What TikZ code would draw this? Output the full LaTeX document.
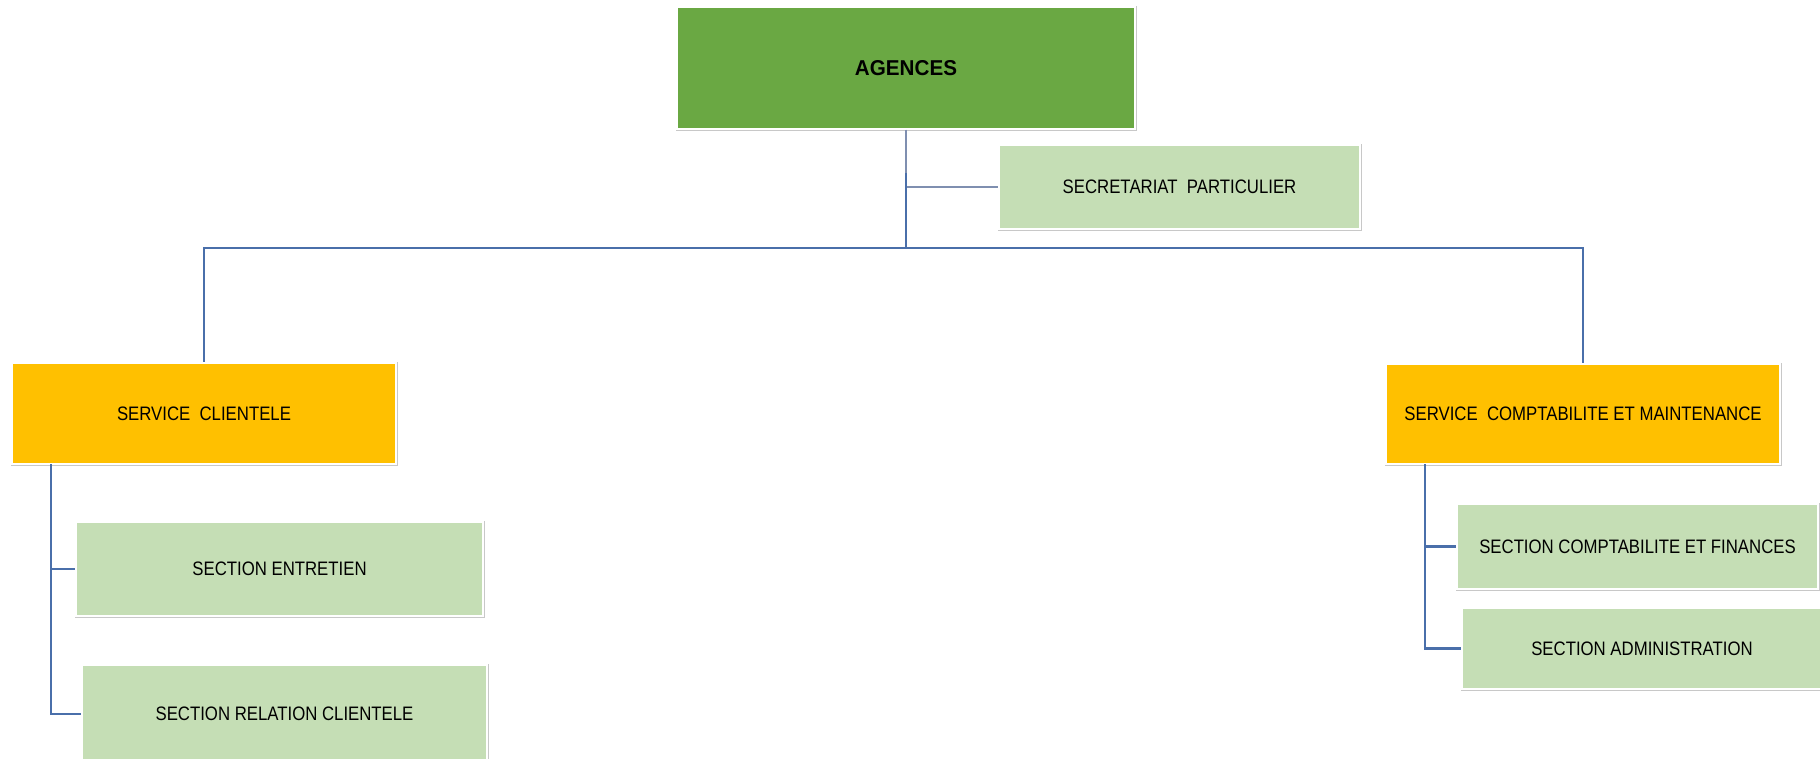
\documentclass[tikz,border=0pt]{standalone}
\usepackage{fontspec}
\newfontfamily\boxfont{Liberation Sans}[FakeStretch=0.86]
\newfontfamily\headfont{Liberation Sans}[FakeStretch=0.96]
\definecolor{headgreen}{HTML}{6AA843}
\definecolor{serviceorange}{HTML}{FFC000}
\definecolor{sectiongreen}{HTML}{C5DEB5}
\definecolor{linkblue}{HTML}{4A6FAA}
\definecolor{linkthin}{HTML}{7F8FB0}
\definecolor{edgegray}{HTML}{C8C8C8}
\tikzset{
  orgbox/.style={rectangle, inner sep=0pt, text=black,
    font=\boxfont\fontsize{19.5}{23}\selectfont,
    preaction={draw=edgegray, line width=3pt},
    draw=white, line width=1.4pt},
  headbox/.style={orgbox, fill=headgreen,
    font=\headfont\bfseries\fontsize{21.5}{26}\selectfont},
  servicebox/.style={orgbox, fill=serviceorange},
  sectionbox/.style={orgbox, fill=sectiongreen},
  link/.style={draw=linkblue, line width=2.2pt},
  thinlink/.style={draw=linkthin, line width=1.1pt}
}
\begin{document}
\begin{tikzpicture}[x=1pt, y=-1pt]
\useasboundingbox (0,0) rectangle (1820,758);
\clip (0,0) rectangle (1820,758);

% boxes
\node[headbox, minimum width=458pt, minimum height=122pt] (ag) at (906,68) {AGENCES};
\node[sectionbox, minimum width=361pt, minimum height=84pt] (sec) at (1179.5,187) {SECRETARIAT\ \ PARTICULIER};
\node[servicebox, minimum width=384pt, minimum height=101pt] (sc) at (204,413.5) {SERVICE\ \ CLIENTELE};
\node[servicebox, minimum width=394pt, minimum height=100pt] (scm) at (1583,414) {SERVICE\ \ COMPTABILITE ET MAINTENANCE};
\node[sectionbox, minimum width=407pt, minimum height=94pt] (ent) at (279.5,569) {SECTION ENTRETIEN};
\node[sectionbox, minimum width=405pt, minimum height=98pt] (rel) at (284.5,714) {SECTION RELATION CLIENTELE};
\node[sectionbox, minimum width=361pt, minimum height=85pt] (fin) at (1637.5,546.5) {SECTION COMPTABILITE ET FINANCES};
\node[sectionbox, minimum width=360pt, minimum height=81pt] (adm) at (1642,648.5) {SECTION ADMINISTRATION};

% top level links
\coordinate (trunk) at (906,173);
\coordinate (bus) at (906,248);
\draw[thinlink] (ag.south) |- (sec.west);
\draw[link] (trunk) -- (bus);
\draw[link] (bus) -| (sc.north);
\draw[link] (bus) -| (scm.north);

% customer service sections
\coordinate (lspine) at (51,464);
\draw[link] (lspine) |- (ent.west);
\draw[link] (lspine) |- (rel.west);

% accounting sections
\coordinate (rspine) at (1425,464);
\draw[link] (rspine) |- (fin.west);
\draw[link] (rspine) |- (adm.west);
\end{tikzpicture}
\end{document}
